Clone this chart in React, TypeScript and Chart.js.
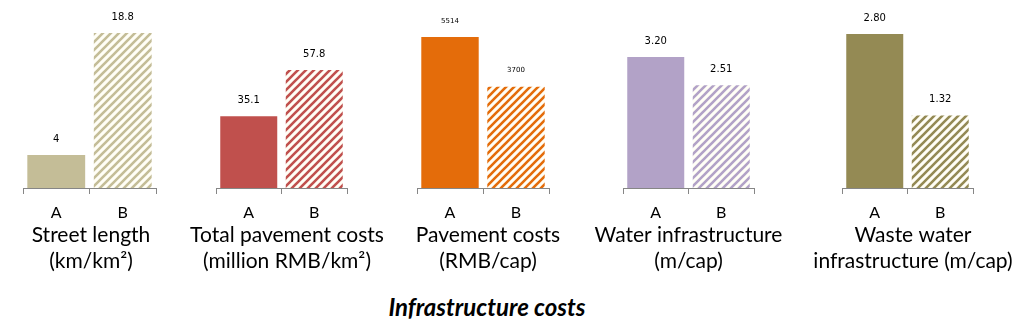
import React, { useEffect, useRef } from "react";
import { Chart, registerables } from "chart.js";
Chart.register(...registerables);

// ---- data ----
const categories = ["A", "B"];
const streetLength = [4, 18.8];
const totalPavementCosts = [35.1, 57.8];
const pavementCosts = [5514, 3700];
const waterInfrastructure = [3.2, 2.51];
const wasteWaterInfrastructure = [2.8, 1.32];
const streetLengthTitle = ["Street length", "(km/km²)"];
const totalPavementTitle = ["Total pavement costs", "(million RMB/km²)"];
const pavementTitle = ["Pavement costs", "(RMB/cap)"];
const waterTitle = ["Water infrastructure", "(m/cap)"];
const wasteWaterTitle = ["Waste water", "infrastructure (m/cap)"];
const mainTitle = "Infrastructure costs";

type Panel = {
  values: number[];
  title: string[];
  fmt: (v: number) => string;
  color: string;
  axisLeft: number;
  axisRight: number;
  yMax: number;
  labelSize: number;
  titleDx: number;
};

const panels: Panel[] = [
  { values: streetLength, title: streetLengthTitle, fmt: (v) => String(v), color: "#C4BD97", axisLeft: 23, axisRight: 156, yMax: 22.8, labelSize: 10, titleDx: 1.5 },
  { values: totalPavementCosts, title: totalPavementTitle, fmt: (v) => String(v), color: "#C0504D", axisLeft: 216, axisRight: 347, yMax: 92.1, labelSize: 10, titleDx: 5.5 },
  { values: pavementCosts, title: pavementTitle, fmt: (v) => String(v), color: "#E46C0A", axisLeft: 417, axisRight: 549, yMax: 6865, labelSize: 7, titleDx: 5 },
  { values: waterInfrastructure, title: waterTitle, fmt: (v) => v.toFixed(2), color: "#B2A2C7", axisLeft: 623, axisRight: 754, yMax: 4.59, labelSize: 10, titleDx: 0 },
  { values: wasteWaterInfrastructure, title: wasteWaterTitle, fmt: (v) => v.toFixed(2), color: "#948A54", axisLeft: 842, axisRight: 973, yMax: 3.42, labelSize: 10, titleDx: 5.5 },
];

const CANVAS_W = 260;
const CANVAS_H = 280;
const AXIS_COLOR = "#868686";
const FONT = "Lato";

function makeHatch(color: string): CanvasPattern | string {
  const s = 8;
  const c = document.createElement("canvas");
  c.width = s;
  c.height = s;
  const ctx = c.getContext("2d");
  if (!ctx) return color;
  ctx.fillStyle = "#FFFEF6";
  ctx.fillRect(0, 0, s, s);
  ctx.strokeStyle = color;
  ctx.lineWidth = 2.6;
  ctx.beginPath();
  ctx.moveTo(-2, s + 2);
  ctx.lineTo(s + 2, -2);
  ctx.moveTo(-2 - s / 2, s / 2 + 2);
  ctx.lineTo(s / 2 + 2, -2 - s / 2);
  ctx.moveTo(s / 2 - 2, s + s / 2 + 2);
  ctx.lineTo(s + s / 2 + 2, s / 2 - 2);
  ctx.stroke();
  const p = ctx.createPattern(c, "repeat");
  return p || color;
}

function BarPanel({ panel }: { panel: Panel }) {
  const ref = useRef<HTMLCanvasElement>(null);
  const center = (panel.axisLeft + panel.axisRight) / 2;
  const left = Math.round(center - CANVAS_W / 2);
  useEffect(() => {
    if (!ref.current) return;
    const labelPlugin = {
      id: "valueLabels",
      afterDatasetsDraw(chart: any) {
        const ctx = chart.ctx;
        const meta = chart.getDatasetMeta(0);
        ctx.save();
        ctx.fillStyle = "#000";
        ctx.font = `${panel.labelSize}px "DejaVu Sans"`;
        ctx.textAlign = "center";
        ctx.textBaseline = "middle";
        meta.data.forEach((el: any, i: number) => {
          ctx.fillText(panel.fmt(panel.values[i]), el.x, el.y - 16);
        });
        ctx.restore();
      },
    };
    const titlePlugin = {
      id: "panelTitle",
      afterDraw(chart: any) {
        const ctx = chart.ctx;
        const ca = chart.chartArea;
        const cx = (ca.left + ca.right) / 2 + panel.titleDx;
        ctx.save();
        ctx.fillStyle = "#000";
        ctx.font = `21px ${FONT}`;
        ctx.textAlign = "center";
        ctx.textBaseline = "middle";
        panel.title.forEach((line, i) => {
          ctx.fillText(line, cx, ca.bottom + 47 + i * 26);
        });
        ctx.restore();
      },
    };
    const chart = new Chart(ref.current, {
      type: "bar",
      data: {
        labels: categories,
        datasets: [
          {
            data: panel.values,
            backgroundColor: [panel.color, makeHatch(panel.color)] as any,
            borderWidth: 0,
            categoryPercentage: 1,
            barPercentage: 0.87,
          },
        ],
      },
      options: {
        animation: false,
        responsive: false,
        layout: {
          padding: {
            left: panel.axisLeft - left,
            right: left + CANVAS_W - panel.axisRight,
            top: 0,
            bottom: 0,
          },
        },
        plugins: { legend: { display: false }, tooltip: { enabled: false } },
        scales: {
          x: {
            afterFit: (scale: any) => {
              scale.height = 92;
            },
            grid: {
              display: true,
              drawOnChartArea: false,
              drawTicks: true,
              tickLength: 6,
              color: AXIS_COLOR,
              offset: true,
            },
            border: { display: true, color: AXIS_COLOR },
            ticks: {
              color: "#000",
              font: { family: FONT, size: 16 },
              padding: 9,
            },
          },
          y: { display: false, min: 0, max: panel.yMax },
        },
      },
      plugins: [labelPlugin, titlePlugin],
    });
    return () => chart.destroy();
  }, [panel, left]);
  return (
    <canvas
      ref={ref}
      width={CANVAS_W}
      height={CANVAS_H}
      style={{ position: "absolute", left, top: 0, width: CANVAS_W, height: CANVAS_H }}
    />
  );
}

export default function App() {
  return (
    <div
      style={{
        position: "absolute",
        left: 0,
        top: 0,
        width: 1035,
        height: 332,
        background: "#fff",
        overflow: "hidden",
      }}
    >
      {panels.map((p, i) => (
        <BarPanel key={i} panel={p} />
      ))}
      <div
        style={{
          position: "absolute",
          left: 287,
          width: 400,
          top: 294,
          lineHeight: "26px",
          textAlign: "center",
          fontFamily: FONT,
          fontWeight: "bold",
          fontStyle: "italic",
          fontSize: 24,
          color: "#000",
        }}
      >
        {mainTitle}
      </div>
    </div>
  );
}
